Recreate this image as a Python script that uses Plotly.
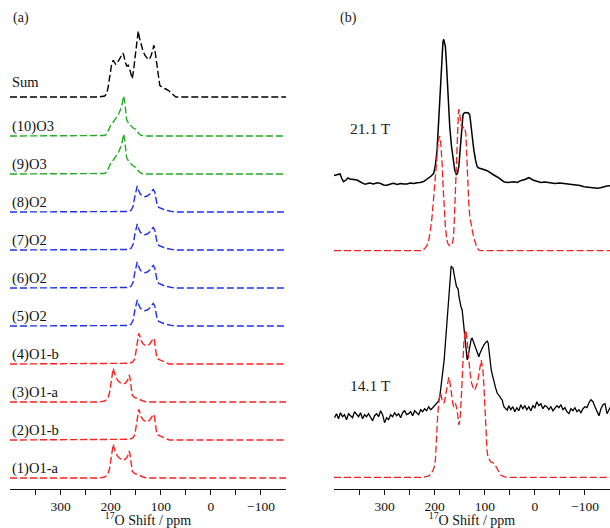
import plotly.graph_objects as go

# ---------------- Panel (a): component line shapes (ppm, intensity) ----------------
O1a_ppm = [401, 222, 212, 206, 202, 199, 196, 195, 193, 190, 185, 180, 175, 170, 166, 163, 161.5, 159, 157, 154, 150, 145, 140, 135, 130, 125, -150]
O1a_int = [0, 0, 1, 3, 10, 22, 32, 33.7, 30, 25, 21, 19, 18, 19, 22, 27, 24, 14, 7, 5, 4, 3, 2, 1, 0.3, 0, 0]

O1b_ppm = [401, 170, 162, 156, 152, 149, 146, 144, 142, 139, 135, 130, 126, 122, 118, 115, 113, 111.5, 110, 108, 104, 100, 96, 92, 88, 83, -150]
O1b_int = [0, 0, 0.7, 2, 5, 14, 25, 30.7, 28, 23, 20, 18.3, 18.5, 20, 23, 25.7, 25, 18, 10, 6, 4.5, 3.5, 2.5, 1.5, 0.7, 0, 0]

O2_ppm = [401, 172, 164, 159, 155, 152, 149, 147, 145, 141, 137, 132, 127, 122, 118, 115, 112, 109.5, 107, 104, 99, 94, 88, 82, 76, 72, -150]
O2_int = [0, 0, 0.5, 2, 6, 15, 24, 26, 22.5, 18, 16, 15.3, 16, 18, 21, 22.5, 20, 12, 6.5, 4.5, 3.3, 2.5, 1.5, 0.7, 0.2, 0, 0]

O3_ppm = [401, 220, 212, 208, 204, 199, 194, 189, 184, 180, 177, 175, 174, 172, 170, 168, 164, 160, 155, 150, 147, 144, 140, 135, -150]
O3_int = [0, 0, 0.5, 2, 6, 11.7, 14.5, 18.3, 22, 27, 32, 38, 40, 34, 22, 16, 12.5, 10, 8, 6.7, 4.5, 2.5, 0.8, 0, 0]

Sum_ppm = [401, 225, 212, 208, 205, 201, 198, 195, 192, 190, 187, 183, 179, 176, 174, 171, 168, 165, 162, 159, 157, 155, 152, 149, 147, 145, 143, 140, 136, 132, 128, 125, 122, 119, 116, 114, 112, 110, 107, 104, 102, 98, 95, 90, 85, 80, 76, 72, 70, -150]
Sum_int = [0, 0, 1, 3.3, 10, 25, 33, 36.7, 34, 32.7, 34, 37, 41, 44, 42, 35, 31, 31.7, 28, 22, 18.3, 24, 38, 52, 60, 66, 60, 53, 47, 42, 38.5, 37.3, 38.5, 41.7, 47, 51.7, 48, 40, 30, 18, 11.7, 10, 9, 8, 6.7, 4.5, 2.3, 0.5, 0, 0]

labels_a = ["(1)O1-a", "(2)O1-b", "(3)O1-a", "(4)O1-b", "(5)O2", "(6)O2", "(7)O2", "(8)O2", "(9)O3", "(10)O3", "Sum"]
shapes_a = [(O1a_ppm, O1a_int), (O1b_ppm, O1b_int), (O1a_ppm, O1a_int), (O1b_ppm, O1b_int),
            (O2_ppm, O2_int), (O2_ppm, O2_int), (O2_ppm, O2_int), (O2_ppm, O2_int),
            (O3_ppm, O3_int), (O3_ppm, O3_int), (Sum_ppm, Sum_int)]
colors_a = ["#ff2020"] * 4 + ["#2030f0"] * 4 + ["#22aa22"] * 2 + ["#000000"]

# ---------------- Panel (b): experimental and simulated spectra ----------------
exp211_ppm = [402, 395, 389, 385, 382, 377, 373, 369, 362, 355, 348, 339, 330, 322, 315, 308, 302, 295, 288, 282, 275, 268, 262, 255, 249, 242, 235, 229, 222, 216, 212, 207, 202, 198.5, 195.2, 192.5, 189.9, 187.5, 185.2, 183.5, 181.9, 180.2, 178.6, 176.9, 175.2, 172.5, 169.9, 166.5, 163.2, 160, 156.6, 154.3, 151.9, 150.2, 148.6, 146.9, 145.2, 143.5, 141.9, 138.5, 135.2, 132.5, 129.9, 128.2, 126.6, 124.2, 121.9, 118.5, 115.2, 112, 108.6, 102, 95.2, 88.5, 81.9, 75, 68, 61.9, 55, 48, 41.9, 35, 28.6, 20, 11.9, 4, -4.8, -12, -20, -31.4, -40, -50, -60, -71.4, -80, -90, -98.1, -108, -118, -124.8, -131, -138.1, -144, -150]
exp211_int = [7.3, 8, 9, 4, 1.3, 3, 5, 4, 3.5, 3, 1, -1.3, 0, -1, 0.3, -0.5, -2, -2.3, -1, -0.3, -1.5, -0.5, -1, -1, 0, -0.5, 0.3, 0.5, 1.5, 3.5, 4.7, 7, 9.7, 18, 33, 58, 83, 110, 133, 141, 143.7, 141, 136.3, 123, 106.3, 80, 56.3, 37, 23, 13, 8, 10, 16.3, 27, 39.7, 52, 63, 68, 69.7, 70.5, 70.3, 70, 68, 60, 49.7, 41, 33, 23, 16.3, 15, 14.7, 13.5, 12.3, 10.5, 8, 6, 3.5, 1.3, 0.5, 1, 1.3, 0.5, 2.3, 3.5, 5.3, 3, 1.3, 0.5, 1, 0.3, -0.5, 0, -0.5, -1.3, -2, -2.5, -3.7, -4.5, -5, -5.3, -4.8, -3.7, -3, -2.7]

sim211_ppm = [401, 226, 221.9, 216, 211.9, 208.5, 205.2, 201.9, 198.6, 195.9, 193.2, 191.5, 189.9, 188.2, 186.5, 184.8, 183.2, 180.9, 178.6, 176.2, 173.9, 171.2, 168.6, 165.9, 163.2, 161.5, 159.9, 158.2, 156.6, 155.2, 153.9, 152.5, 151.2, 149.9, 148.6, 146.9, 145.2, 143.5, 141.9, 139.9, 137.9, 135.9, 133.9, 131.9, 129.9, 127.5, 125.2, 122.9, 120.6, 117.9, 115.2, 111.9, 108.6, -150]
sim211_int = [0, 0, 1.3, 4.5, 10.7, 20, 34, 54, 77.4, 95, 107.4, 112, 114.7, 110, 100.7, 84, 64, 40, 24, 13, 7.4, 5.5, 4.7, 6, 10.7, 22, 44, 72, 100.7, 120, 134, 139.5, 141.4, 138, 130.7, 125, 122.4, 122.5, 124, 122, 117.4, 95, 67.4, 47, 34, 26, 20.7, 15, 10.7, 6, 2.4, 0.8, 0, 0]

exp141_ppm = [400, 396, 392, 388, 384, 380, 376, 372, 368, 364, 360, 356, 352, 348, 344, 340, 336, 332, 328, 324, 320, 316, 312, 308, 304, 300, 296, 292, 288, 284, 280, 276, 272, 268, 264, 260, 256, 252, 248, 244, 240, 236, 232, 228, 224, 220, 216, 212, 208, 204, 200,
              196, 193.2, 190, 188.6, 186, 183.2, 181, 178.6, 176, 173.8, 171.5, 169.8, 168, 167.1, 165, 163.1, 161.5, 159.8, 158, 156.5, 155, 153.1, 151.5, 149.8, 147.5, 145.1, 143.5, 141.8, 140, 138.5, 136.8, 135.1, 133.5, 131.8, 130, 128.5, 126.8, 125.1, 123.5, 121.8, 119.5, 117.1, 114.5, 111.8, 110, 108.5, 105.1, 101.8, 99.5, 97.1, 95, 93.1, 91.7, 90.4, 88.8, 87.1, 84.5, 81.8, 78.5, 75.1, 72.5, 69.8, 67.5, 65.1, 63.5, 61.8, 58, 55.1,
              52, 48, 44, 40, 36, 32, 28, 24, 20, 16, 12, 8, 4, 0, -4, -8, -12, -16, -20, -24, -28, -32, -36, -40, -44, -48, -52, -56, -60, -64, -68, -72, -76, -80, -84, -88, -92, -96, -100, -104, -108, -112, -116, -120, -124, -128, -132, -136, -140, -144, -148, -151]
exp141_int = [-6, -2, -7, -1, -5, -3, -8, -2, -4, -6, 0, -3, -5, -1, -7, -3, -5, -2, -6, -9, -4, -2, -5, 1, -3, -11, -6, -8, -3, -5, -1, -4, -2, -6, -1, 1, -3, -2, 0, -4, 1, -1, -3, 2, 0, 3, 1, 5, 2, 4, 6,
              8, 10, 14, 20, 28, 41.7, 52, 68.4, 85, 101.7, 118, 131.7, 141, 145.7, 144, 143.4, 138, 131.7, 127, 125, 124, 122.4, 115, 108.4, 105, 101.7, 93, 85, 75, 65, 57, 51.7, 55, 60, 67, 71.7, 73, 73.4, 71, 68.4, 65, 61.7, 58, 55, 58, 60, 63.4, 66.7, 68.5, 70, 70.5, 68.4, 62, 55, 48, 41.7, 36, 31.7, 24, 18.4, 17, 15, 13, 11.7, 8, 5, 3, 1.7,
              6, 2, 5, 0, 4, 1, 7, 3, 6, 2, 5, 1, 6, 4, 10, 6, 8, 3, 6, 5, 2, 5, 1, 3, 6, 4, 7, 2, 4, 0, -2, 3, 1, 4, 0, 2, -1, 3, 5, 4, 9, 12, 10, 5, 1, -4, 3, 7, 8, -2, 2, 5]

sim141_ppm = [401, 221.9, 211.9, 207, 203.2, 200.5, 198.6, 196.8, 195.2, 193.5, 191.9, 190.2, 188.6, 186.9, 185.2, 183.5, 181.9, 180.2, 178.6, 176.9, 175.2, 173.5, 171.9, 170.2, 168.6, 166.9, 165.2, 163.5, 161.9, 160.2, 158.5, 156.9, 155.2, 153.5, 151.8, 150.2, 148.5, 146.8, 145.2, 143.5, 141.8, 140.2, 138.5, 136.8, 135.1, 133.5, 131.8, 130.2, 128.5, 126.2, 123.8, 121.8, 119.8, 117.5, 115.1, 112.8, 110.5, 108.8, 107.1, 105.5, 103.8, 102.1, 100.4, 98.8, 97.1, 95.5, 93.8, 91, 88.4, 85, 81.8, 78.5, 75.1, 71.8, 68.5, 65, 61.8, 58, 55.1, -150]
sim141_int = [0, 0, 1.3, 3.5, 7.3, 11, 17.3, 30, 50.6, 65, 77.3, 82, 84, 82, 77.3, 75, 74, 76, 80.6, 85, 90.6, 96, 100, 97, 90.6, 84, 77.3, 73, 70.6, 71, 74, 71, 67.3, 60, 52.3, 56, 64, 80, 100.6, 118, 134, 142, 147.3, 144, 137.3, 127, 117.3, 108, 100.6, 94, 89, 87.5, 87.3, 90, 94, 100, 107.3, 113, 117.3, 113, 107.3, 95, 77.3, 56, 37.3, 27, 20.6, 17, 15.6, 14.8, 14, 11.5, 9, 5.5, 2.3, 1.2, 0.6, 0.2, 0, 0]

labels_b = ["21.1 T", "14.1 T"]

# ---------------- Figure ----------------
W, H = 610, 528
PLOT_BOTTOM = 489          # pixel row of the x axis lines
FONT = "Liberation Serif"

fig = go.Figure()

base, step = 11, 38
for i, ((px, py), col) in enumerate(zip(shapes_a, colors_a)):
    off = base + step * i + (1 if i == 10 else 0)
    fig.add_trace(go.Scatter(
        x=px, y=[v + off for v in py], mode="lines", xaxis="x", yaxis="y",
        line=dict(color=col, width=1.4, dash="7px,3px"), hoverinfo="skip", showlegend=False))
    lab_y = off + (15 if i == 10 else 9.5)
    fig.add_annotation(x=10 / W, xref="paper", y=lab_y, yref="y", text=labels_a[i],
                       showarrow=False, xanchor="left", yanchor="middle",
                       font=dict(family=FONT, size=14.5, color="#111"))

# panel b traces
off_exp211, off_sim211, off_exp141, off_sim141 = 306, 238.3, 77.3, 11.7
fig.add_trace(go.Scatter(x=exp211_ppm, y=[v + off_exp211 for v in exp211_int], mode="lines",
                         xaxis="x2", yaxis="y2", line=dict(color="#000", width=1.5),
                         hoverinfo="skip", showlegend=False))
fig.add_trace(go.Scatter(x=sim211_ppm, y=[v + off_sim211 for v in sim211_int], mode="lines",
                         xaxis="x2", yaxis="y2", line=dict(color="#ee2222", width=1.3, dash="7px,3px"),
                         hoverinfo="skip", showlegend=False))
fig.add_trace(go.Scatter(x=exp141_ppm, y=[v + off_exp141 for v in exp141_int], mode="lines",
                         xaxis="x2", yaxis="y2", line=dict(color="#000", width=1.3),
                         hoverinfo="skip", showlegend=False))
fig.add_trace(go.Scatter(x=sim141_ppm, y=[v + off_sim141 for v in sim141_int], mode="lines",
                         xaxis="x2", yaxis="y2", line=dict(color="#ee2222", width=1.3, dash="7px,3px"),
                         hoverinfo="skip", showlegend=False))

for txt, yy in zip(labels_b, [361, 104]):
    fig.add_annotation(x=348 / W, xref="paper", y=yy, yref="y2", text=txt, showarrow=False,
                       xanchor="left", yanchor="middle", font=dict(family=FONT, size=15.5, color="#222"))

fig.add_annotation(x=11 / W, xref="paper", y=PLOT_BOTTOM - 18, yref="y", text="(a)", showarrow=False,
                   xanchor="left", yanchor="middle", font=dict(family=FONT, size=14, color="#222"))
fig.add_annotation(x=338 / W, xref="paper", y=PLOT_BOTTOM - 18, yref="y2", text="(b)", showarrow=False,
                   xanchor="left", yanchor="middle", font=dict(family=FONT, size=14, color="#222"))

xax = dict(range=[401, -150], showline=True, linecolor="#111", linewidth=1.3,
           ticks="outside", ticklen=5, tickwidth=1.2, tickcolor="#111",
           tickvals=[300, 200, 100, 0, -100],
           minor=dict(tickvals=[350, 250, 150, 50, -50], ticks="outside", ticklen=5, tickwidth=1.2, tickcolor="#111"),
           showgrid=False, zeroline=False,
           tickfont=dict(family=FONT, size=13.5, color="#111"),
           title=dict(text="<sup>17</sup>O Shift / ppm", font=dict(family=FONT, size=14, color="#111"), standoff=5))
yax = dict(range=[0, PLOT_BOTTOM], visible=False, showgrid=False, zeroline=False, fixedrange=True)

fig.update_layout(
    width=W, height=H, margin=dict(l=0, r=0, t=0, b=H - PLOT_BOTTOM),
    paper_bgcolor="white", plot_bgcolor="white",
    xaxis=dict(domain=[10 / W, 286 / W], anchor="y", **xax),
    xaxis2=dict(domain=[334 / W, 1.0], anchor="y2", **xax),
    yaxis=dict(anchor="x", **yax),
    yaxis2=dict(anchor="x2", **yax),
)

fig.write_html("out.html", config={"displayModeBar": False},
               post_script="document.body.style.margin='0';document.body.style.padding='0';")
